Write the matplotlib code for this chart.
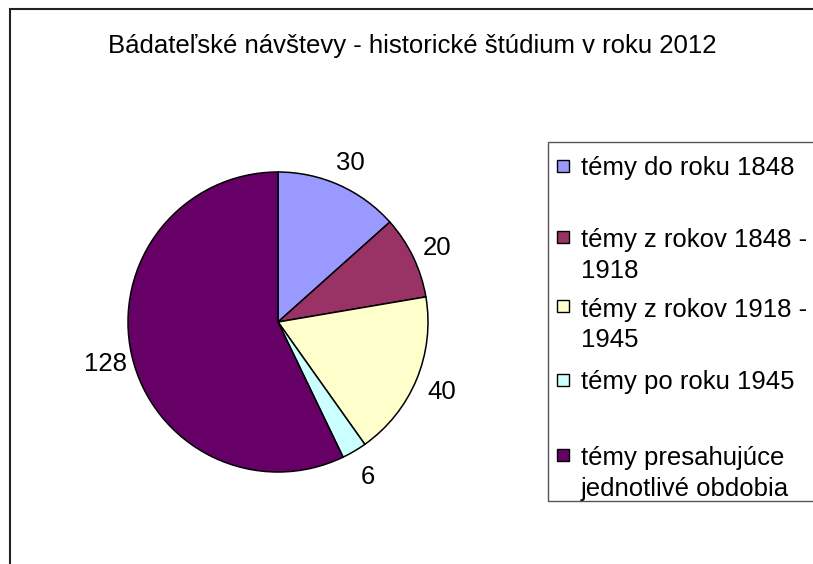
import matplotlib.pyplot as plt
from matplotlib.patches import Rectangle

plt.rcParams['font.family'] = ['Liberation Sans', 'DejaVu Sans']

title = "Bádateľské návštevy - historické štúdium v roku 2012"
categories = [
    "témy do roku 1848",
    "témy z rokov 1848 -\n1918",
    "témy z rokov 1918 -\n1945",
    "témy po roku 1945",
    "témy presahujúce\njednotlivé obdobia",
]
values = [30, 20, 40, 6, 128]
colors = ["#9999FF", "#993366", "#FFFFCC", "#CCFFFF", "#660066"]

W, H = 813, 564
fs = 18.5
fig = plt.figure(figsize=(W / 100, H / 100), dpi=100)


def fx(px):
    return px / W


def fy(py):
    # pixel from top -> figure fraction
    return 1 - py / H


# outer chart frame (only left and top edges visible)
fig.patches.append(Rectangle((fx(10), fy(H + 20)), fx(W + 20), (H + 20 - 9) / H,
                             transform=fig.transFigure, fill=False,
                             edgecolor="#222222", linewidth=1.5))

fig.text(fx(412), fy(44), title, ha="center", va="center_baseline", fontsize=fs)

# pie
cx, cy, r = 278, 322, 150
ax = fig.add_axes([fx(cx - r), fy(cy + r), (2 * r) / W, (2 * r) / H])
wedges, texts = ax.pie(values, labels=[str(v) for v in values], colors=colors,
                       startangle=90, counterclock=False, labeldistance=1.18,
                       wedgeprops=dict(edgecolor="black", linewidth=1.1),
                       textprops=dict(fontsize=fs))
for t in texts:
    t.set_ha("center")
    t.set_va("center_baseline")
ax.set_xlim(-1, 1)
ax.set_ylim(-1, 1)
ax.set_aspect("equal")

# legend drawn by hand to follow the original spacing
leg_left, leg_top, leg_bottom = 548, 142, 501
fig.patches.append(Rectangle((fx(leg_left), fy(leg_bottom)), fx(W + 20 - leg_left),
                             (leg_bottom - leg_top) / H, transform=fig.transFigure,
                             fill=False, edgecolor="#555555", linewidth=1.0))
# first-line centre for the marker, block centre for the text
marker_y = [166, 237, 306, 380, 455]
text_y = [166, 250, 319, 380, 468]
box = 12
for label, color, my, ty in zip(categories, colors, marker_y, text_y):
    fig.patches.append(Rectangle((fx(557), fy(my + box / 2)), box / W, box / H,
                                 transform=fig.transFigure, facecolor=color,
                                 edgecolor="black", linewidth=1.0))
    fig.text(fx(581), fy(ty), label, ha="left", va="center_baseline",
             fontsize=fs, linespacing=1.35)

fig.savefig("out.png", dpi=100)
